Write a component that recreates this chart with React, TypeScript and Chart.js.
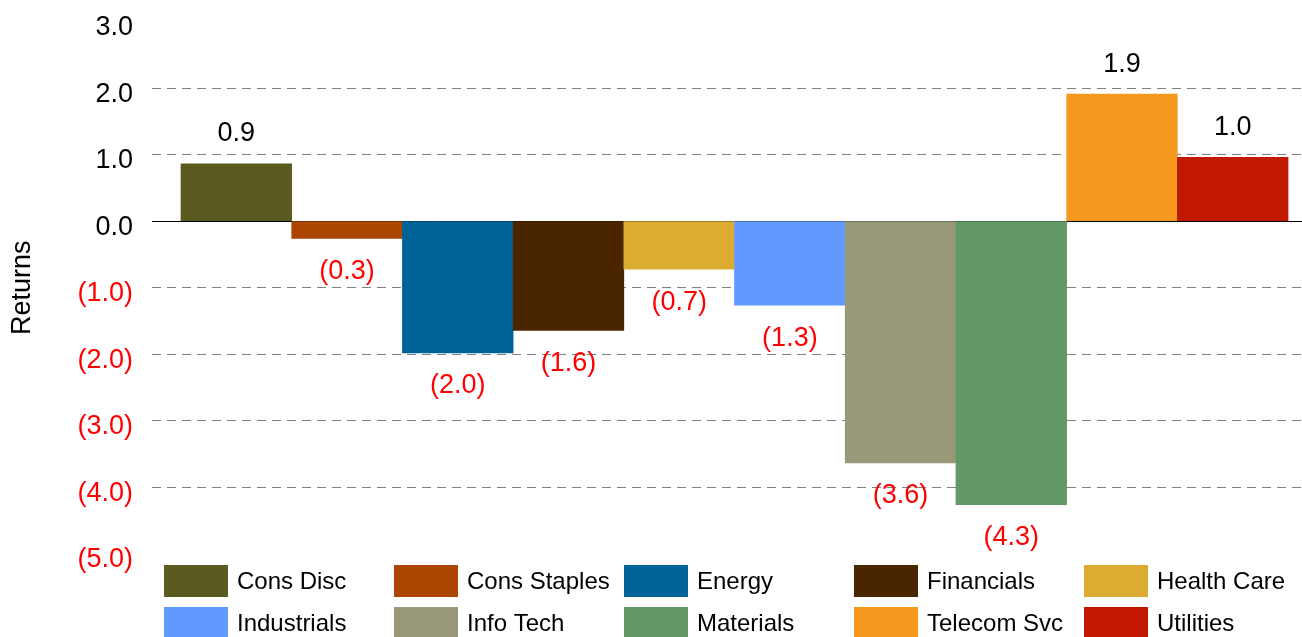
import React, { useEffect, useRef } from "react";
import { Chart, registerables } from "chart.js";

Chart.register(...registerables);

const categories = [
  "Cons Disc",
  "Cons Staples",
  "Energy",
  "Financials",
  "Health Care",
  "Industrials",
  "Info Tech",
  "Materials",
  "Telecom Svc",
  "Utilities",
];
const returnsValues = [0.86, -0.26, -1.98, -1.64, -0.72, -1.26, -3.63, -4.26, 1.91, 0.96];
const barColors = [
  "#5B5A1F",
  "#AB4500",
  "#006398",
  "#4A2600",
  "#DBAB32",
  "#6199FF",
  "#99997A",
  "#639966",
  "#F7991F",
  "#C21700",
];
const yTicks = [3, 2, 1, 0, -1, -2, -3, -4, -5];

const FONT = "'Liberation Sans', Arial, Helvetica, sans-serif";

const fmt = (v: number) => (v < 0 ? `(${Math.abs(v).toFixed(1)})` : v.toFixed(1));

const zeroLinePlugin = {
  id: "zeroLine",
  beforeDatasetsDraw(chart: any) {
    const { ctx, chartArea, scales } = chart;
    const y = Math.round(scales.y.getPixelForValue(0)) + 0.5;
    ctx.save();
    ctx.strokeStyle = "#000";
    ctx.lineWidth = 1;
    ctx.beginPath();
    ctx.moveTo(chartArea.left, y);
    ctx.lineTo(chartArea.right, y);
    ctx.stroke();
    ctx.restore();
  },
};

const valueLabelPlugin = {
  id: "valueLabels",
  afterDatasetsDraw(chart: any) {
    const { ctx } = chart;
    const meta = chart.getDatasetMeta(0);
    ctx.save();
    ctx.font = `27px ${FONT}`;
    ctx.textAlign = "center";
    ctx.textBaseline = "middle";
    meta.data.forEach((el: any, i: number) => {
      const v = returnsValues[i];
      ctx.fillStyle = v < 0 ? "#ff0000" : "#000000";
      const y = v < 0 ? el.y + 33 : el.y - 30;
      ctx.fillText(fmt(v), el.x, y);
    });
    ctx.restore();
  },
};

const gridLegendPlugin = {
  id: "gridLegend",
  afterDraw(chart: any) {
    const { ctx, chartArea } = chart;
    const left = chartArea.left + 12;
    const top = chartArea.bottom + 11;
    const colW = 230;
    const rowH = 42;
    ctx.save();
    ctx.font = `24px ${FONT}`;
    ctx.textBaseline = "middle";
    ctx.textAlign = "left";
    categories.forEach((name, i) => {
      const col = i % 5;
      const row = Math.floor(i / 5);
      const x = left + col * colW;
      const y = top + row * rowH;
      ctx.fillStyle = barColors[i];
      ctx.fillRect(x, y, 64, 32);
      ctx.fillStyle = "#000";
      ctx.fillText(name, x + 73, y + 17);
    });
    ctx.restore();
  },
};

export default function App() {
  const canvasRef = useRef<HTMLCanvasElement | null>(null);

  useEffect(() => {
    document.body.style.margin = "0";
    const canvas = canvasRef.current;
    if (!canvas) return;
    const chart = new Chart(canvas, {
      type: "bar",
      data: {
        datasets: [
          {
            label: "Returns",
            data: returnsValues.map((v, i) => ({ x: i, y: v })),
            backgroundColor: barColors,
            borderWidth: 0,
            barPercentage: 1,
            categoryPercentage: 1,
          },
        ],
      },
      options: {
        animation: false,
        responsive: true,
        maintainAspectRatio: false,
        layout: { padding: { top: 21.5, bottom: 83, left: 0, right: 0 } },
        plugins: {
          legend: { display: false },
          tooltip: { enabled: false },
        },
        scales: {
          x: {
            type: "linear",
            min: -0.762,
            max: 9.626,
            offset: false,
            display: false,
            afterBuildTicks: (s: any) => {
              s.ticks = categories.map((_, i) => ({ value: i }));
            },
          },
          y: {
            min: -5,
            max: 3,
            afterFit: (s: any) => {
              s.width = 152;
              s.paddingTop = 0;
              s.paddingBottom = 0;
            },
            afterBuildTicks: (s: any) => {
              s.ticks = yTicks.map((v) => ({ value: v }));
            },
            border: { display: false, dash: [9, 6] },
            grid: {
              drawTicks: false,
              lineWidth: 1,
              color: (c: any) => {
                const v = c.tick ? c.tick.value : null;
                if (v === 0 || v === 3 || v === -5) return "rgba(0,0,0,0)";
                return "#808080";
              },
            },
            ticks: {
              padding: 19,
              labelOffset: 6,
              font: { family: FONT, size: 27 },
              color: (c: any) => (c.tick && c.tick.value < 0 ? "#ff0000" : "#000000"),
              callback: (v: any) => fmt(Number(v)),
            },
            title: {
              display: true,
              text: "Returns",
              color: "#000",
              font: { family: FONT, size: 27 },
              padding: { top: 6, bottom: 0 },
            },
          },
        },
      },
      plugins: [zeroLinePlugin, valueLabelPlugin, gridLegendPlugin],
    });
    return () => chart.destroy();
  }, []);

  return (
    <div style={{ position: "absolute", left: 0, top: 0, width: 1302, height: 637 }}>
      <canvas ref={canvasRef} />
    </div>
  );
}
